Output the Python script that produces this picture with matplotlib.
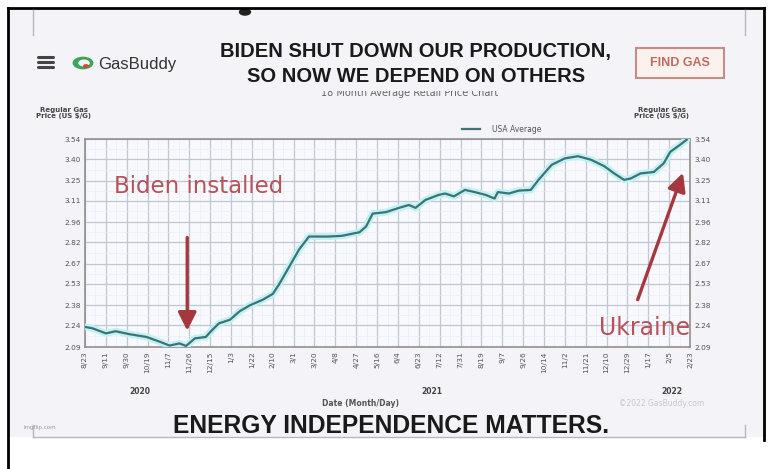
import matplotlib
matplotlib.use("Agg")
import matplotlib.pyplot as plt
import pandas as pd
import numpy as np
from matplotlib.lines import Line2D
from matplotlib.patches import Rectangle, Circle

# ---------------- data ----------------
dates = ["2020-08-23", "2020-08-30", "2020-09-11", "2020-09-20", "2020-10-02",
         "2020-10-18", "2020-10-30", "2020-11-08", "2020-11-17", "2020-11-23",
         "2020-12-01", "2020-12-11", "2020-12-17", "2020-12-23", "2021-01-02",
         "2021-01-11", "2021-01-20", "2021-02-01", "2021-02-10", "2021-02-16",
         "2021-02-25", "2021-03-06", "2021-03-15", "2021-03-24", "2021-04-02",
         "2021-04-14", "2021-04-30", "2021-05-06", "2021-05-12", "2021-05-24",
         "2021-06-05", "2021-06-14", "2021-06-20", "2021-06-29", "2021-07-11",
         "2021-07-17", "2021-07-25", "2021-08-04", "2021-08-13", "2021-08-23",
         "2021-08-31", "2021-09-03", "2021-09-13", "2021-09-22", "2021-10-03",
         "2021-10-10", "2021-10-22", "2021-11-03", "2021-11-15", "2021-11-27",
         "2021-12-09", "2021-12-18", "2021-12-27", "2022-01-02", "2022-01-11",
         "2022-01-23", "2022-02-01", "2022-02-07", "2022-02-16", "2022-02-22"]
prices = [2.23, 2.22, 2.185, 2.20, 2.18,
          2.16, 2.127, 2.10, 2.115, 2.097,
          2.15, 2.16, 2.21, 2.255, 2.28,
          2.34, 2.38, 2.42, 2.46, 2.53,
          2.65, 2.77, 2.86, 2.86, 2.86,
          2.865, 2.89, 2.93, 3.02, 3.03,
          3.06, 3.08, 3.06, 3.115, 3.15,
          3.16, 3.14, 3.185, 3.17, 3.15,
          3.125, 3.17, 3.16, 3.18, 3.185,
          3.255, 3.36, 3.405, 3.42, 3.395,
          3.35, 3.30, 3.255, 3.265, 3.30,
          3.31, 3.37, 3.45, 3.50, 3.535]

y_ticks = [2.09, 2.24, 2.38, 2.53, 2.67, 2.82, 2.96, 3.11, 3.25, 3.40, 3.54]
x_labels = ['8/23', '9/11', '9/30', '10/19', '11/7', '11/26', '12/15', '1/3', '1/22',
            '2/10', '3/1', '3/20', '4/8', '4/27', '5/16', '6/4', '6/23', '7/12',
            '7/31', '8/19', '9/7', '9/26', '10/14', '11/2', '11/21', '12/10',
            '12/29', '1/17', '2/5', '2/23']
tick_step_days = 19
start = pd.Timestamp("2020-08-23")

# ---------------- figure ----------------
W, H = 772, 469
fig = plt.figure(figsize=(W / 100, H / 100), dpi=100, facecolor="white")

def fx(px):
    return px / W

def fy(py):
    return 1 - py / H

card_bg = "#f3f3f8"
fig.patches.append(Rectangle((fx(8), fy(437)), fx(756), (437 - 8) / H,
                             transform=fig.transFigure, facecolor=card_bg,
                             edgecolor="none", zorder=-10))
# black frame
for (x0, y0, x1, y1) in [(8, 8, 8, 469), (8, 8, 764, 8), (764, 8, 764, 440)]:
    fig.add_artist(Line2D([fx(x0), fx(x1)], [fy(y0), fy(y1)], color="black", lw=2))
# gray card edges
for (x0, y0, x1, y1) in [(33, 10, 33, 35), (745, 10, 745, 35),
                         (33, 437, 745, 437), (33, 425, 33, 437), (745, 425, 745, 437)]:
    fig.add_artist(Line2D([fx(x0), fx(x1)], [fy(y0), fy(y1)], color="#b8b8bc", lw=1))
fig.patches.append(Circle((fx(245), fy(12)), 0.008, transform=fig.transFigure,
                          facecolor="#222222", edgecolor="none"))

# ---------------- header ----------------
for yy in (57, 62, 67):
    fig.add_artist(Line2D([fx(38), fx(53)], [fy(yy), fy(yy)], color="#444444", lw=2.2,
                          solid_capstyle="round"))
fig.patches.append(Circle((fx(83), fy(63)), 0.0135, transform=fig.transFigure,
                          facecolor="#3aa757", edgecolor="none"))
fig.patches.append(Circle((fx(84), fy(63)), 0.0075, transform=fig.transFigure,
                          facecolor=card_bg, edgecolor="none"))
fig.patches.append(Circle((fx(86), fy(66)), 0.004, transform=fig.transFigure,
                          facecolor="#d9443a", edgecolor="none"))
fig.text(fx(98), fy(64), "GasBuddy", fontsize=12, color="#333333",
         ha="left", va="center", family=["Liberation Sans", "DejaVu Sans"])

narrow = ["Liberation Sans Narrow", "Liberation Sans", "DejaVu Sans"]
fig.text(fx(416), fy(52), "BIDEN SHUT DOWN OUR PRODUCTION,", fontsize=14.5,
         fontweight="bold", color="#1a1a1a", ha="center", va="center", family=narrow)
fig.text(fx(416), fy(76), "SO NOW WE DEPEND ON OTHERS", fontsize=14.5,
         fontweight="bold", color="#1a1a1a", ha="center", va="center", family=narrow)
fig.text(fx(410), fy(93), "18 Month Average Retail Price Chart", fontsize=7,
         color="#666666", ha="center", va="center", zorder=1)
fig.patches.append(Rectangle((fx(300), fy(91)), fx(220), 6 / H,
                             transform=fig.transFigure, facecolor=card_bg,
                             edgecolor="none", zorder=2))

fig.patches.append(Rectangle((fx(636), fy(78)), fx(88), 30 / H,
                             transform=fig.transFigure, facecolor="#fbf2ef",
                             edgecolor="#c48d80", lw=1.5))
fig.text(fx(680), fy(63), "FIND GAS", fontsize=9, fontweight="bold",
         color="#c06a60", ha="center", va="center", family=narrow)

# ---------------- axes ----------------
ax = fig.add_axes([fx(85), fy(347), fx(605), 208 / H], zorder=5)
ax.set_facecolor("#f8f9fc")
x_days = [(pd.Timestamp(d) - start).days for d in dates]
ax.plot(x_days, prices, color="#c2f0f3", lw=5, solid_capstyle="round",
        solid_joinstyle="round", zorder=3)
ax.plot(x_days, prices, color="#3b7477", lw=1.6, solid_joinstyle="round", zorder=4)

tick_pos = [i * tick_step_days for i in range(len(x_labels))]
ax.set_xlim(tick_pos[0], tick_pos[-1])
ax.set_ylim(y_ticks[0], y_ticks[-1])
ax.set_xticks(tick_pos)
ax.set_xticklabels(x_labels, rotation=90, fontsize=5.3, color="#555555")
ax.set_yticks(y_ticks)
ax.set_yticklabels([f"{v:.2f}" for v in y_ticks], fontsize=5.3, color="#555555")
minor_x = [p + tick_step_days / 2 for p in tick_pos[:-1]]
minor_y = [(a + b) / 2 for a, b in zip(y_ticks[:-1], y_ticks[1:])]
ax.set_xticks(minor_x, minor=True)
ax.set_yticks(minor_y, minor=True)
ax.grid(which="major", color="#c0c6d4", lw=0.9)
ax.grid(which="minor", color="#eceef4", lw=0.5)
ax.tick_params(which="both", length=0, pad=3)
for s in ax.spines.values():
    s.set_color("#888888")
    s.set_linewidth(1.1)

ax2 = ax.twinx()
ax2.set_ylim(ax.get_ylim())
ax2.set_yticks(y_ticks)
ax2.set_yticklabels([f"{v:.2f}" for v in y_ticks], fontsize=5.3, color="#555555")
ax2.tick_params(length=0, pad=3)
for s in ax2.spines.values():
    s.set_visible(False)

# legend
fig.add_artist(Line2D([fx(462), fx(480)], [fy(129), fy(129)], color="#3b7477", lw=1.6))
fig.text(fx(492), fy(129), "USA Average", fontsize=5.5, color="#555555",
         ha="left", va="center")

# axis headers
for xc in (64, 662):
    fig.text(fx(xc), fy(113), "Regular Gas\nPrice (US $/G)", fontsize=5,
             fontweight="bold", color="#444444", ha="center", va="center",
             linespacing=1.0)

# annotations
red_txt = "#b5525a"
ax2.text(0.187, 0.772, "Biden installed", transform=ax.transAxes, fontsize=16.5,
         color=red_txt, ha="center", va="center", zorder=6)
ax2.text(0.925, 0.09, "Ukraine", transform=ax.transAxes, fontsize=17,
         color=red_txt, ha="center", va="center", zorder=6)
ax2.annotate("", xy=(0.169, 0.065), xytext=(0.169, 0.54),
             xycoords=ax.transAxes, textcoords=ax.transAxes,
             arrowprops=dict(arrowstyle="-|>,head_length=1.1,head_width=0.55",
                             color="#a5383e", lw=2.4), zorder=6)
ax2.annotate("", xy=(0.99, 0.85), xytext=(0.912, 0.215),
             xycoords=ax.transAxes, textcoords=ax.transAxes,
             arrowprops=dict(arrowstyle="-|>,head_length=1.1,head_width=0.55",
                             color="#a5383e", lw=2.4), zorder=6)

# ---------------- footer ----------------
for label, xp in (("2020", 140), ("2021", 432), ("2022", 672)):
    fig.text(fx(xp), fy(391), label, fontsize=5.5, fontweight="bold",
             color="#444444", ha="center", va="center")
fig.text(fx(360), fy(404), "Date (Month/Day)", fontsize=5.5, fontweight="bold",
         color="#555555", ha="center", va="center")
fig.text(fx(662), fy(404), "\u00a92022 GasBuddy.com", fontsize=5.5,
         color="#c9c9cc", ha="center", va="center")
fig.text(fx(391), fy(426), "ENERGY INDEPENDENCE MATTERS.", fontsize=17.7,
         fontweight="bold", color="#1a1a1a", ha="center", va="center", family=narrow)
fig.text(fx(40), fy(427), "imgflip.com", fontsize=4, color="#9a9a9a",
         ha="center", va="center")

fig.savefig("out.png", dpi=100, facecolor="white")
